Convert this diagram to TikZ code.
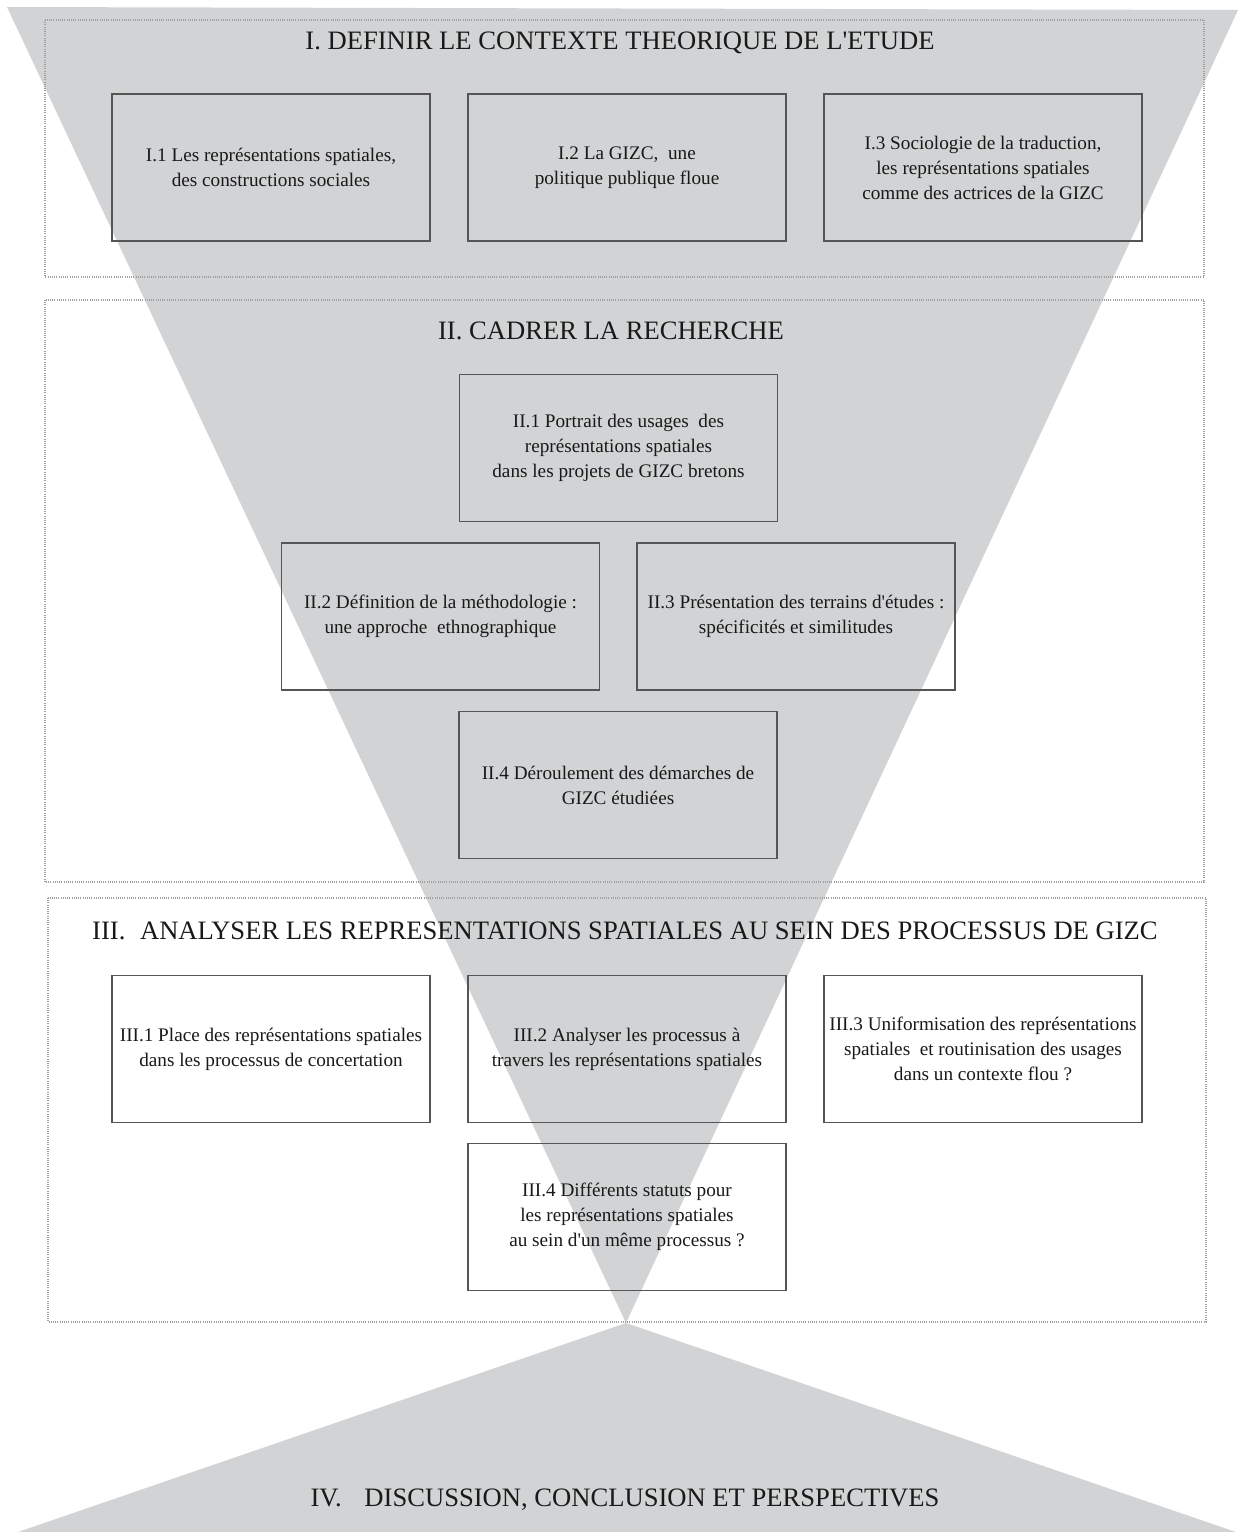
\documentclass[tikz,border=0pt]{standalone}
\usepackage{fontspec}
\setmainfont{Liberation Serif}
\definecolor{fanGray}{RGB}{209,211,212}
\definecolor{boxLine}{RGB}{85,85,85}
\definecolor{dotLine}{RGB}{160,160,160}
\newcommand{\apos}{\textquotesingle}
\tikzset{
  boxnode/.style={draw=boxLine, line width=0.7pt, minimum width=159pt, minimum height=73.5pt,
    inner sep=0pt, align=center, font=\fontsize{9.6}{12.5}\selectfont, text=black!90},
  titlenode/.style={inner sep=0pt, align=center, font=\fontsize{13.3}{16}\selectfont, text=black!90},
  frame/.style={draw=dotLine, line width=0.6pt, dash pattern=on 0.5pt off 0.6pt}
}
\begin{document}
\begin{tikzpicture}[x=0.5pt, y=-0.5pt]
\useasboundingbox (0,0) rectangle (1240,1532);
% funnel shapes
\fill[fanGray] (7,7) -- (1238,10) -- (626,1323) -- cycle;
\fill[fanGray] (626,1323) -- (18,1532) -- (1236,1532) -- cycle;
% dotted frames
\draw[frame] (45,20) rectangle (1204,277);
\draw[frame] (45,300) rectangle (1204,882);
\draw[frame] (48,898) rectangle (1206,1322);
% titles
\node[titlenode] (tI) at (620,43) {I. DEFINIR LE CONTEXTE THEORIQUE DE L\apos ETUDE};
\node[titlenode] (tII) at (611,331) {II. CADRER LA RECHERCHE};
\node[titlenode] (tIII) at (625,931) {III.\hspace{0.3em} ANALYSER LES REPRESENTATIONS SPATIALES AU SEIN DES PROCESSUS DE GIZC};
\node[titlenode] (tIV) at (625,1500) {IV.\hspace{0.6em} DISCUSSION, CONCLUSION ET PERSPECTIVES};
% part I
\node[boxnode] (b11) at (271,167.5) {I.1 Les représentations spatiales,\\des constructions sociales};
\node[boxnode] (b12) at (627,167.5) {I.2 La GIZC,\ \ une\\politique publique floue};
\node[boxnode] (b13) at (983,167.5) {I.3 Sociologie de la traduction,\\les représentations spatiales\\comme des actrices de la GIZC};
% part II
\node[boxnode] (b21) at (618.5,448) {II.1 Portrait des usages\ \ des\\représentations spatiales\\dans les projets de GIZC bretons};
\node[boxnode] (b22) at (440.5,616.5) {II.2 Définition de la méthodologie :\\une approche\ \ ethnographique};
\node[boxnode] (b23) at (796,616.5) {II.3 Présentation des terrains d\apos études :\\spécificités et similitudes};
\node[boxnode] (b24) at (618,785) {II.4 Déroulement des démarches de\\GIZC étudiées};
% part III
\node[boxnode] (b31) at (271,1049) {III.1 Place des représentations spatiales\\dans les processus de concertation};
\node[boxnode] (b32) at (627,1049) {III.2 Analyser les processus à\\travers les représentations spatiales};
\node[boxnode] (b33) at (983,1049) {III.3 Uniformisation des représentations\\spatiales\ \ et routinisation des usages\\dans un contexte flou ?};
\node[boxnode] (b34) at (627,1217) {III.4 Différents statuts pour\\les représentations spatiales\\au sein d\apos un même processus ?};
\end{tikzpicture}
\end{document}
